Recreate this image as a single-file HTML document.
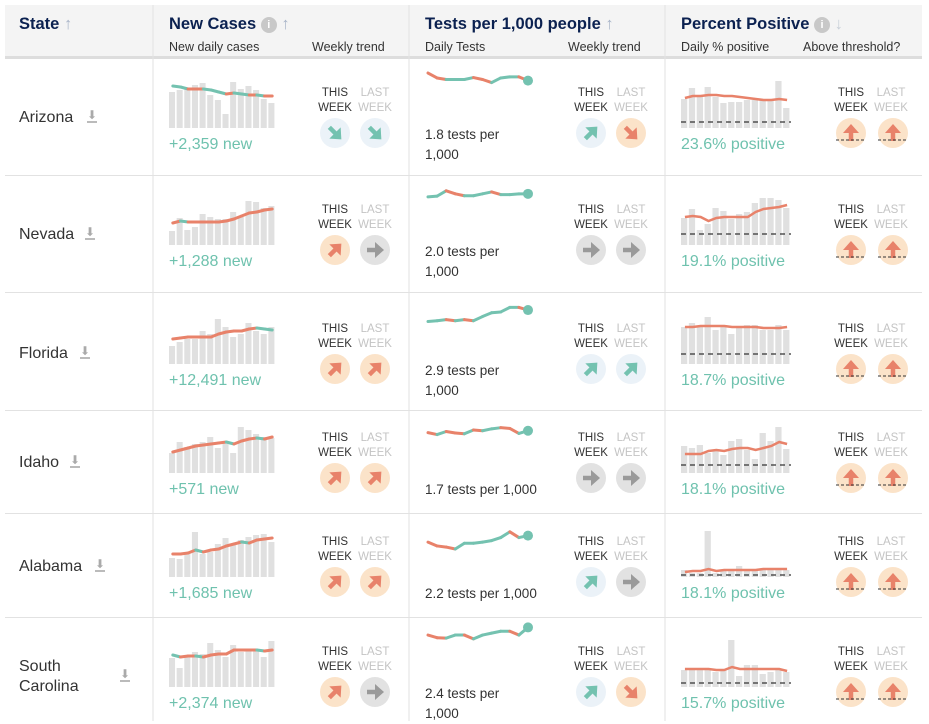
<!DOCTYPE html>
<html><head><meta charset="utf-8">
<style>
body{margin:0;width:929px;height:721px;background:#fff;font-family:"Liberation Sans",sans-serif;overflow:hidden;position:relative}
.a{position:absolute;white-space:nowrap}
.hd{font-weight:bold;font-size:16.5px;color:#0b2150}
.sh{font-size:12.5px;color:#333}
.st{font-size:16px;color:#333;line-height:20px}
.val{font-size:16px;color:#6fc2ae}
.tt{font-size:13.5px;color:#333;line-height:20px}
.wk{font-size:11.5px;line-height:15px;text-align:center;width:40px}
</style></head>
<body>
<div class="a" style="left:5px;top:5px;width:917px;height:51px;background:#f4f4f4"></div>
<div class="a" style="left:5px;top:56px;width:917px;height:3px;background:#ddd"></div>
<div class="a hd" style="left:19px;top:15px">State <span style="color:#a8b4c8;font-weight:normal">↑</span></div>
<div class="a hd" style="left:169px;top:15px">New Cases <span style="display:inline-block;width:16px;height:16px;border-radius:8px;background:#c8c8c8;color:#fff;font-size:11px;text-align:center;line-height:16px;vertical-align:1px">i</span> <span style="color:#a8b4c8;font-weight:normal">↑</span></div>
<div class="a sh" style="left:169px;top:40px">New daily cases</div>
<div class="a sh" style="left:312px;top:40px">Weekly trend</div>
<div class="a hd" style="left:425px;top:15px">Tests per 1,000 people <span style="color:#a8b4c8;font-weight:normal">↑</span></div>
<div class="a sh" style="left:425px;top:40px">Daily Tests</div>
<div class="a sh" style="left:568px;top:40px">Weekly trend</div>
<div class="a hd" style="left:681px;top:15px">Percent Positive <span style="display:inline-block;width:16px;height:16px;border-radius:8px;background:#c8c8c8;color:#fff;font-size:11px;text-align:center;line-height:16px;vertical-align:1px">i</span> <span style="color:#c8cfd8;font-weight:normal">↓</span></div>
<div class="a sh" style="left:681px;top:40px">Daily % positive</div>
<div class="a sh" style="left:803px;top:40px">Above threshold?</div>
<div id="rows"></div>
<svg id="g" class="a" style="left:0;top:0" width="929" height="721"></svg>
<script>
const states=["Arizona","Nevada","Florida","Idaho","Alabama","South Carolina"];
const rowTops=[58,175,292,410,513,617];
const rowBottoms=[175,292,410,513,617,721];
const circleYs=[133,250,369,478,582,692];
const caseBars=[[36,38,39,43,45,33,28,14,46,39,42,38,29,25],[14,27,15,18,31,28,26,26,33,28,44,43,37,39],[18,22,25,25,33,30,45,37,27,30,41,33,30,37],[20,31,26,29,31,36,25,32,20,46,43,39,36,35],[19,18,25,45,23,25,33,39,32,37,40,42,43,35],[29,19,32,35,33,44,37,30,42,35,37,37,30,46]];
const caseAvg=[[42,41,39,39,39,38,36,34,35,34,33,33,32,32],[22,24,23,23,23,23,23,24,26,29,32,33,35,36],[25,26,27,27,27,27,30,32,33,33,35,36,35,34],[21,23,25,27,28,29,30,31,29,32,34,35,34,36],[23,23,24,27,25,27,28,31,33,35,34,37,38,39],[32,30,31,31,30,32,33,33,37,37,37,37,36,37]];
const caseLabels=["+2,359 new","+1,288 new","+12,491 new","+571 new","+1,685 new","+2,374 new"];
const caseTrend=[["down","down"],["up","flat"],["up","up"],["up","up"],["up","up"],["up","flat"]];
const testVals=[[55,42,38,38,38,43,38,30,42,45,45,35],[37,39,53,45,40,40,45,50,43,43,45,45],[17,19,22,19,22,19,30,40,42,54,54,47],[35,30,38,34,32,42,40,45,48,46,33,40],[18,8,5,0,15,15,18,22,30,45,30,35],[47,40,39,47,47,37,47,52,57,57,47,67]];
const testLabels=[["1.8 tests per","1,000"],["2.0 tests per","1,000"],["2.9 tests per","1,000"],["1.7 tests per 1,000"],["2.2 tests per 1,000"],["2.4 tests per","1,000"]];
const testTrend=[["up","down"],["flat","flat"],["up","up"],["flat","flat"],["up","flat"],["up","down"]];
const pctBars=[[29,40,33,41,31,25,26,26,28,28,28,28,47,20],[27,36,15,21,37,34,26,31,33,42,47,47,45,37],[37,41,37,47,34,38,30,37,39,39,34,34,39,34],[27,25,28,20,22,18,32,34,23,14,40,32,46,24],[7,4,4,46,4,6,6,11,7,7,7,9,7,7],[17,18,18,18,15,17,47,11,22,22,13,15,18,15]];
const pctLine=[[30,32,32,33,33,32,32,31,30,29,28,28,29,28],[28,29,28,24,27,28,28,28,28,33,36,37,38,40],[37,37,38,38,38,38,37,37,37,37,36,36,36,37],[19,19,19,22,23,22,24,25,25,23,25,27,31,29],[5,6,6,8,6,7,7,7,7,7,8,8,8,8],[18,18,18,18,17,17,20,18,18,18,18,18,18,16]];
const thresholds=[6,11,10,8,2,4];
const pctLabels=["23.6% positive","19.1% positive","18.7% positive","18.1% positive","18.1% positive","15.7% positive"];

const dlX=[87,85,80,70,95,120];
const NS="http://www.w3.org/2000/svg";
const svg=document.getElementById('g');
const rows=document.getElementById('rows');
const TEAL="#74c2b0",RED="#e8826a";
function mk(t,at){const e=document.createElementNS(NS,t);for(const k in at)e.setAttribute(k,at[k]);svg.appendChild(e);return e;}
function div(cls,style,html){const d=document.createElement('div');d.className='a '+cls;d.style.cssText=style;d.innerHTML=html;rows.appendChild(d);return d;}
function xBar(x0,w,n,i){return x0+i*(w/n);}
function yBar(base,v){return base-v;}
function yTest(top,v){return top+36-v/2.62;}

[153,409,665].forEach(x=>{const l=mk('line',{x1:x,y1:5,x2:x,y2:721,stroke:'#e2e2e2','stroke-width':1});

});
rowBottoms.slice(0,5).forEach(y=>{const l=mk('line',{x1:5,y1:y+0.5,x2:922,y2:y+0.5,stroke:'#e2e2e2','stroke-width':1});

});

function arrow(cx,cy,dir,kind,name){
  const fill=kind==='flat'?'#e2e2e2':(kind==='teal'?'#ebf2f8':'#fbe3c9');
  const col=kind==='flat'?'#9a9a9a':(kind==='teal'?TEAL:RED);
  const c=mk('circle',{cx:cx,cy:cy,r:15,fill:fill});
  
  
  const ang={up:-45,down:45,flat:0,north:-90}[dir];
  const g=mk('g',{transform:`translate(${cx},${cy}) rotate(${ang})`});
  g.appendChild(mk('line',{x1:-8,y1:0,x2:4,y2:0,stroke:col,'stroke-width':4.5}));
  g.appendChild(mk('polygon',{points:'9,0 0,-8 0,8',fill:col}));
}
function weekLabels(x,cy,name){
  const d=div('wk',`left:${x-20}px;top:${cy-47}px;color:#333`,'THIS<br>WEEK');
  
  
  const e=div('wk',`left:${x+20}px;top:${cy-47}px;color:#c4c4c4`,'LAST<br>WEEK');
  
  
}

states.forEach((s,r)=>{
  const cy=circleYs[r],top=rowTops[r],base=cy-5;
  const two=s.includes(' ');
  const st=div('st',`left:19px;top:${cy-25-(two?10:0)}px;`,two?s.replace(' ','<br>'):s);
  
  
  const dl=div('',`left:${dlX[r]}px;top:${cy-25}px;font-size:12px;color:#aaa;`,'<span style="border-bottom:2px solid #bbb;line-height:12px;display:inline-block">⬇</span>');
  
  
  const n=14,bw=107/n;
  caseBars[r].forEach((v,i)=>{const b=mk('rect',{x:xBar(169,107,n,i),y:yBar(base,v),width:bw-1.6,height:v,fill:'#e0e0e0'});
    
    });
  const ca=caseAvg[r];
  for(let i=0;i<n-1;i++){const x1=xBar(169,107,n,i)+bw/2,x2=xBar(169,107,n,i+1)+bw/2;
    const l=mk('line',{x1:x1,y1:yBar(base,ca[i]),x2:x2,y2:yBar(base,ca[i+1]),stroke:ca[i+1]<ca[i]?TEAL:RED,'stroke-width':3,'stroke-linecap':'round'});
    
    }
  const cl=div('val',`left:169px;top:${cy+3}px`,caseLabels[r]);
  
  
  weekLabels(335,cy,'cases');
  caseTrend[r].forEach((t,k)=>arrow(335+k*40,cy,t,t==='flat'?'flat':(t==='up'?'red':'teal'),'cases-trend-icon'));
  const tv=testVals[r],tn=tv.length;
  const tx=i=>428+i*(100/(tn-1));
  for(let i=0;i<tn-1;i++){const l=mk('line',{x1:tx(i),y1:yTest(top,tv[i]),x2:tx(i+1),y2:yTest(top,tv[i+1]),stroke:tv[i+1]>=tv[i]?TEAL:RED,'stroke-width':3,'stroke-linecap':'round'});
    
    }
  const dot=mk('circle',{cx:tx(tn-1),cy:yTest(top,tv[tn-1]),r:5,fill:TEAL});
  
  
  const tl=testLabels[r];
  const td=div('tt',`left:425px;top:${tl.length>1?cy-8:cy+2}px`,tl.join('<br>'));
  
  
  weekLabels(591,cy,'tests');
  testTrend[r].forEach((t,k)=>arrow(591+k*40,cy,t,t==='flat'?'flat':(t==='up'?'teal':'red'),'tests-trend-icon'));
  const pw=110/n;
  pctBars[r].forEach((v,i)=>{const b=mk('rect',{x:xBar(681,110,n,i),y:yBar(base,v),width:pw-1.6,height:v,fill:'#e0e0e0'});
    
    });
  const pl=pctLine[r];
  const pts=pl.map((v,i)=>`${xBar(681,110,n,i)+pw/2},${yBar(base,v)}`).join(' ');
  const pp=mk('polyline',{points:pts,fill:'none',stroke:RED,'stroke-width':2.5});
  
  
  const th=mk('line',{x1:681,y1:yBar(base,thresholds[r]),x2:791,y2:yBar(base,thresholds[r]),stroke:'#333','stroke-width':1.3,'stroke-dasharray':'5,4'});
  
  
  const pv=div('val',`left:681px;top:${cy+3}px`,pctLabels[r]);
  
  
  weekLabels(851,cy,'threshold');
  [851,893].forEach(x=>{arrow(x,cy,'north','red','threshold-icon');
    const l=mk('line',{x1:x-15,y1:cy+7,x2:x+15,y2:cy+7,stroke:'#333','stroke-width':1,'stroke-dasharray':'3,2'});
    
    });
});
</script>
</body></html>
